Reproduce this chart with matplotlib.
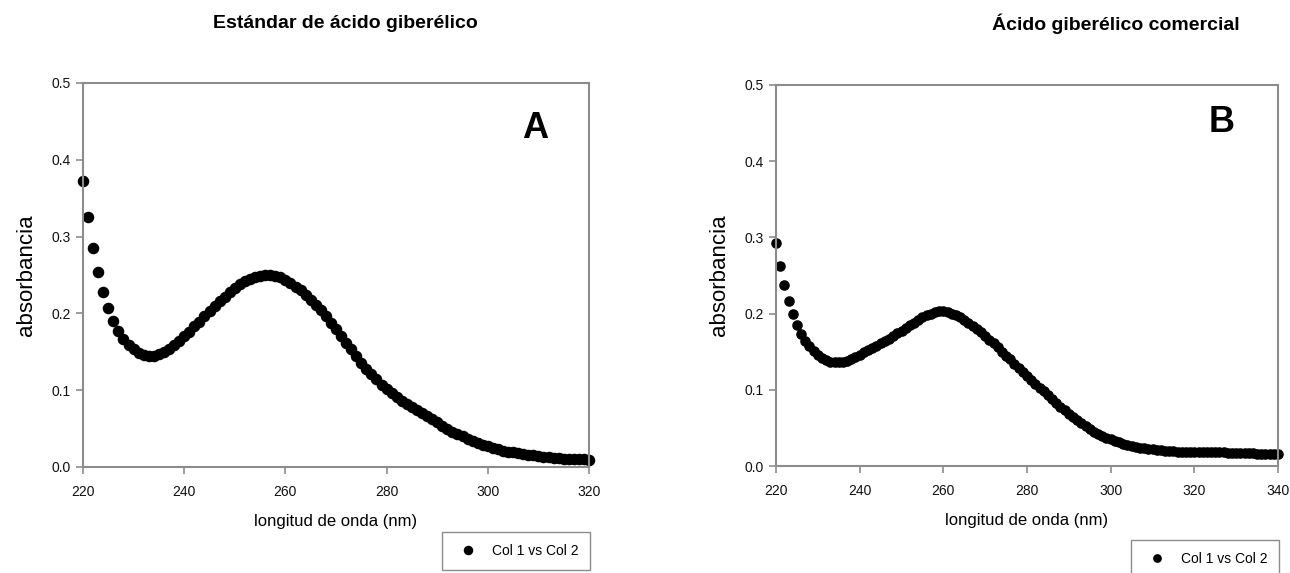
import matplotlib
matplotlib.use("Agg")
import matplotlib.pyplot as plt
from matplotlib.ticker import FormatStrFormatter

plt.rcParams['font.family'] = ['Liberation Sans', 'DejaVu Sans']

# panel A: estandar, 220-320 nm every 1 nm
wl_a = list(range(220, 321))
abs_a = [
    0.372, 0.325, 0.285, 0.254, 0.228, 0.207, 0.190, 0.177, 0.167, 0.159,  # 220-229
    0.153, 0.149, 0.146, 0.145, 0.145, 0.147, 0.150, 0.154, 0.159, 0.164,  # 230-239
    0.170, 0.176, 0.183, 0.189, 0.196, 0.203, 0.209, 0.216, 0.222, 0.228,  # 240-249
    0.233, 0.238, 0.242, 0.245, 0.248, 0.249, 0.250, 0.250, 0.249, 0.247,  # 250-259
    0.244, 0.240, 0.235, 0.230, 0.224, 0.218, 0.211, 0.204, 0.196, 0.188,  # 260-269
    0.180, 0.171, 0.162, 0.153, 0.144, 0.136, 0.128, 0.121, 0.114, 0.107,  # 270-279
    0.101, 0.096, 0.091, 0.086, 0.082, 0.078, 0.074, 0.070, 0.066, 0.062,  # 280-289
    0.058, 0.054, 0.050, 0.046, 0.043, 0.040, 0.037, 0.034, 0.031, 0.029,  # 290-299
    0.027, 0.025, 0.023, 0.021, 0.020, 0.019, 0.018, 0.017, 0.016, 0.015,  # 300-309
    0.014, 0.013, 0.013, 0.012, 0.012, 0.011, 0.011, 0.010, 0.010, 0.010,  # 310-319
    0.009,                                                                  # 320
]

# panel B: comercial, 220-340 nm every 1 nm
wl_b = list(range(220, 341))
abs_b = [
    0.293, 0.262, 0.237, 0.216, 0.199, 0.185, 0.173, 0.164, 0.157, 0.151,  # 220-229
    0.146, 0.142, 0.139, 0.137, 0.136, 0.136, 0.137, 0.138, 0.140, 0.143,  # 230-239
    0.146, 0.149, 0.152, 0.155, 0.158, 0.161, 0.164, 0.167, 0.170, 0.174,  # 240-249
    0.177, 0.181, 0.185, 0.188, 0.192, 0.195, 0.198, 0.200, 0.202, 0.203,  # 250-259
    0.203, 0.202, 0.200, 0.198, 0.195, 0.192, 0.188, 0.184, 0.180, 0.176,  # 260-269
    0.171, 0.166, 0.161, 0.156, 0.150, 0.145, 0.140, 0.134, 0.129, 0.124,  # 270-279
    0.118, 0.113, 0.108, 0.103, 0.098, 0.093, 0.088, 0.083, 0.078, 0.073,  # 280-289
    0.068, 0.064, 0.060, 0.056, 0.052, 0.048, 0.045, 0.042, 0.039, 0.037,  # 290-299
    0.035, 0.033, 0.031, 0.029, 0.028, 0.026, 0.025, 0.024, 0.023, 0.022,  # 300-309
    0.022, 0.021, 0.021, 0.020, 0.020, 0.020, 0.019, 0.019, 0.019, 0.019,  # 310-319
    0.019, 0.019, 0.018, 0.018, 0.018, 0.018, 0.018, 0.018, 0.017, 0.017,  # 320-329
    0.017, 0.017, 0.017, 0.017, 0.017, 0.016, 0.016, 0.016, 0.016, 0.016,  # 330-339
    0.016,                                                                  # 340
]

titles = ["Estándar de ácido giberélico", "Ácido giberélico comercial"]
panel_letters = ["A", "B"]
xticks_a = [220, 240, 260, 280, 300, 320]
xticks_b = [220, 240, 260, 280, 300, 320, 340]
yticks = [0.0, 0.1, 0.2, 0.3, 0.4, 0.5]
series_label = "Col 1 vs Col 2"

W, H = 1290, 573
fig = plt.figure(figsize=(W / 100, H / 100), dpi=100)

def px_axes(l, t, r, b):
    return fig.add_axes([l / W, 1 - b / H, (r - l) / W, (b - t) / H])

ax_a = px_axes(83, 83, 589, 467)
ax_b = px_axes(776, 85, 1278, 466)

grey = "#8c8c8c"

def style(ax, xticks, xmax):
    ax.set_xlim(220, xmax)
    ax.set_ylim(0, 0.5)
    ax.set_xticks(xticks)
    ax.set_yticks(yticks)
    ax.yaxis.set_major_formatter(FormatStrFormatter('%.1f'))
    for sp in ax.spines.values():
        sp.set_color(grey)
        sp.set_linewidth(1.5)
    ax.tick_params(direction='out', length=5, width=1.2, color=grey,
                   labelsize=10, labelcolor='#111111')
    ax.tick_params(axis='x', pad=8)
    ax.tick_params(axis='y', pad=4)
    ax.set_ylabel("absorbancia", fontsize=16, labelpad=10)
    ax.set_xlabel("longitud de onda (nm)", fontsize=12, labelpad=11)

style(ax_a, xticks_a, 320)
style(ax_b, xticks_b, 340)

ln_a, = ax_a.plot(wl_a, abs_a, 'o', color='black', markersize=7.3,
                  clip_on=False, label=series_label)
ln_b, = ax_b.plot(wl_b, abs_b, 'o', color='black', markersize=6.6,
                  clip_on=False, label=series_label)

fig.text(345 / W, 1 - 24 / H, titles[0], fontsize=14, fontweight='bold',
         ha='center', va='center')
fig.text(1116 / W, 1 - 24 / H, titles[1], fontsize=14, fontweight='bold',
         ha='center', va='center')

fig.text(535 / W, 1 - 128 / H, panel_letters[0], fontsize=26,
         fontweight='bold', ha='center', va='center')
fig.text(1222 / W, 1 - 122 / H, panel_letters[1], fontsize=26,
         fontweight='bold', ha='center', va='center')

for line, anchor in [(ln_a, (442, 532)), (ln_b, (1131, 540))]:
    leg = fig.legend(handles=[line], loc='upper left',
                     bbox_to_anchor=(anchor[0] / W, 1 - anchor[1] / H),
                     fontsize=10, frameon=True, fancybox=False,
                     edgecolor=grey, framealpha=1, markerscale=0.8,
                     handlelength=2.0, handletextpad=0.75,
                     borderpad=0.85, borderaxespad=0)
    leg.get_frame().set_linewidth(1.0)

fig.savefig("out.png", dpi=100)
